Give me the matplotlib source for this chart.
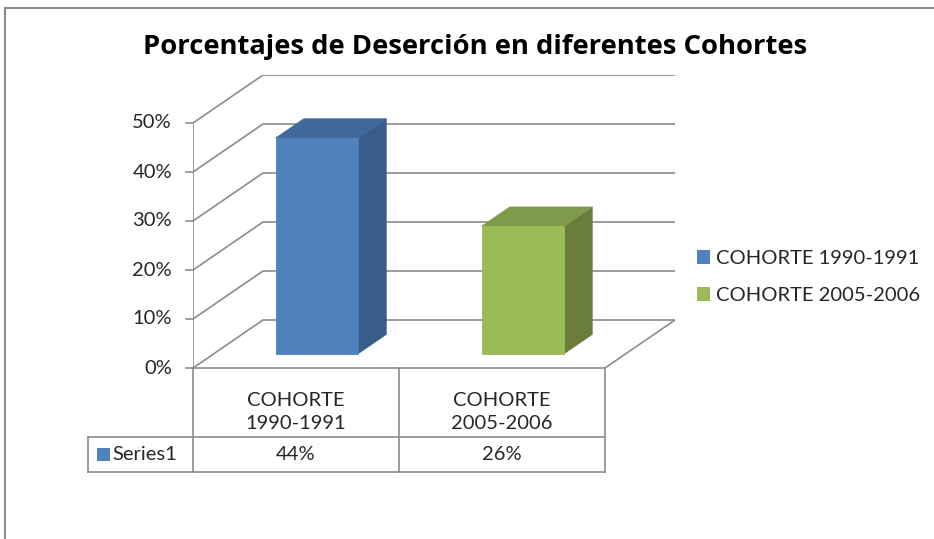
import matplotlib
matplotlib.use('Agg')
import matplotlib.pyplot as plt
from matplotlib.patches import Polygon, Patch
from matplotlib.lines import Line2D

# ---------------- data ----------------
title = 'Porcentajes de Deserción en diferentes Cohortes'
categories = ['COHORTE 1990-1991', 'COHORTE 2005-2006']
header_labels = ['COHORTE\n1990-1991', 'COHORTE\n2005-2006']
values = [0.44, 0.26]
value_labels = ['44%', '26%']
series_name = 'Series1'
yticks = [0.0, 0.1, 0.2, 0.3, 0.4, 0.5]
ytick_labels = ['0%', '10%', '20%', '30%', '40%', '50%']

# ---------------- style ----------------
front_colors = ['#4F81BD', '#9BBB59']
top_colors = ['#41699B', '#7F9A4A']
side_colors = ['#385D8A', '#6A7D3C']
grid_col = '#8C8C8C'
txt_col = '#262626'
FONT = ['Lato', 'DejaVu Sans']
plt.rcParams['font.family'] = FONT
FS = 14.5

W, H = 934, 539
fig = plt.figure(figsize=(W / 100, H / 100), dpi=100)
fig.patch.set_facecolor('white')

# outer chart border
fig.add_artist(Line2D([5 / W, 5 / W], [0, 1 - 8 / H], transform=fig.transFigure, color=grid_col, lw=1.5))
fig.add_artist(Line2D([5 / W, 1], [1 - 8 / H, 1 - 8 / H], transform=fig.transFigure, color=grid_col, lw=1.5))

fig.text(475 / W, 1 - 47 / H, title, ha='center', va='center', fontsize=19.7, fontweight='bold',
         color='black', family=['Open Sans', 'DejaVu Sans'])

# geometry (pixels)
X0, Y0 = 193, 368
CW = 206
VH = 490
DXp, DYp = 70, 48
DX = DXp / CW
DY = DYp / VH
ymax = yticks[-1]
ncat = len(categories)

ax = fig.add_axes([X0 / W, (H - Y0) / H, (ncat * CW + DXp) / W, (ymax * VH + DYp) / H])
ax.set_xlim(0, ncat + DX)
ax.set_ylim(0, ymax + DY)
ax.axis('off')


def P(c, v, d):
    return (c + d * DX, v + d * DY)


lw = 1.2
for t, lab in zip(yticks, ytick_labels):
    x1, y1 = P(0, t, 0)
    x2, y2 = P(0, t, 1)
    x3, y3 = P(ncat, t, 1)
    ax.plot([x1, x2, x3], [y1, y2, y3], color=grid_col, lw=lw, zorder=1, solid_capstyle='butt')
    ax.plot([-7 / CW, 0], [t, t], color=grid_col, lw=lw, clip_on=False, zorder=1)
    ax.text(-21 / CW, t, lab, ha='right', va='center', fontsize=FS, color=txt_col)
# front axis
ax.plot([0, 0], [0, ymax], color=grid_col, lw=lw, zorder=1)
# floor right edge
fx1, fy1 = P(ncat, 0, 0)
fx2, fy2 = P(ncat, 0, 1)
ax.plot([fx1, fx2], [fy1, fy2], color=grid_col, lw=lw, zorder=1)

# bars
bw = 0.4
d0, d1 = 0.3, 0.7
for i, v in enumerate(values):
    c0 = i + 0.5 - bw / 2
    c1 = i + 0.5 + bw / 2
    front = [P(c0, 0, d0), P(c1, 0, d0), P(c1, v, d0), P(c0, v, d0)]
    top = [P(c0, v, d0), P(c1, v, d0), P(c1, v, d1), P(c0, v, d1)]
    side = [P(c1, 0, d0), P(c1, 0, d1), P(c1, v, d1), P(c1, v, d0)]
    ax.add_patch(Polygon(side, closed=True, fc=side_colors[i], ec=side_colors[i], lw=0.6, zorder=3))
    ax.add_patch(Polygon(top, closed=True, fc=top_colors[i], ec=top_colors[i], lw=0.6, zorder=3))
    ax.add_patch(Polygon(front, closed=True, fc=front_colors[i], ec=front_colors[i], lw=0.6, zorder=4))

# ---------------- data table ----------------
TL, TR, TT, TB = 88, X0 + ncat * CW, Y0, 472
ROW = 437
tax = fig.add_axes([TL / W, (H - TB) / H, (TR - TL) / W, (TB - TT) / H])
xl = -(X0 - TL) / CW
tax.set_xlim(xl, ncat)
tax.set_ylim(TB, TT)
tax.axis('off')
tax.plot([0, ncat], [TT, TT], color=grid_col, lw=lw, clip_on=False)
tax.plot([xl, ncat], [ROW, ROW], color=grid_col, lw=lw, clip_on=False)
tax.plot([xl, ncat], [TB, TB], color=grid_col, lw=lw, clip_on=False)
tax.plot([xl, xl], [ROW, TB], color=grid_col, lw=lw, clip_on=False)
for k in range(ncat + 1):
    tax.plot([k, k], [TT, TB], color=grid_col, lw=lw, clip_on=False)
for i in range(ncat):
    tax.text(i + 0.5, 412, header_labels[i], ha='center', va='center', fontsize=FS,
             color=txt_col, linespacing=1.45)
    tax.text(i + 0.5, 455, value_labels[i], ha='center', va='center', fontsize=FS, color=txt_col)
tax.add_patch(plt.Rectangle((xl + 9 / CW, 448), 13 / CW, 13, fc=front_colors[0], ec='none', clip_on=False))
tax.text(xl + 24 / CW, 455, series_name, ha='left', va='center', fontsize=FS, color=txt_col)

# ---------------- legend ----------------
handles = [Patch(fc=front_colors[i], ec='none', label=categories[i]) for i in range(ncat)]
fig.legend(handles=handles, loc='center left', bbox_to_anchor=(697 / W, 1 - 277 / H),
           frameon=False, fontsize=FS, handlelength=0.65, handleheight=0.65,
           handletextpad=0.3, labelspacing=1.0, borderaxespad=0, borderpad=0, labelcolor=txt_col)

fig.savefig('out.png', dpi=100)
